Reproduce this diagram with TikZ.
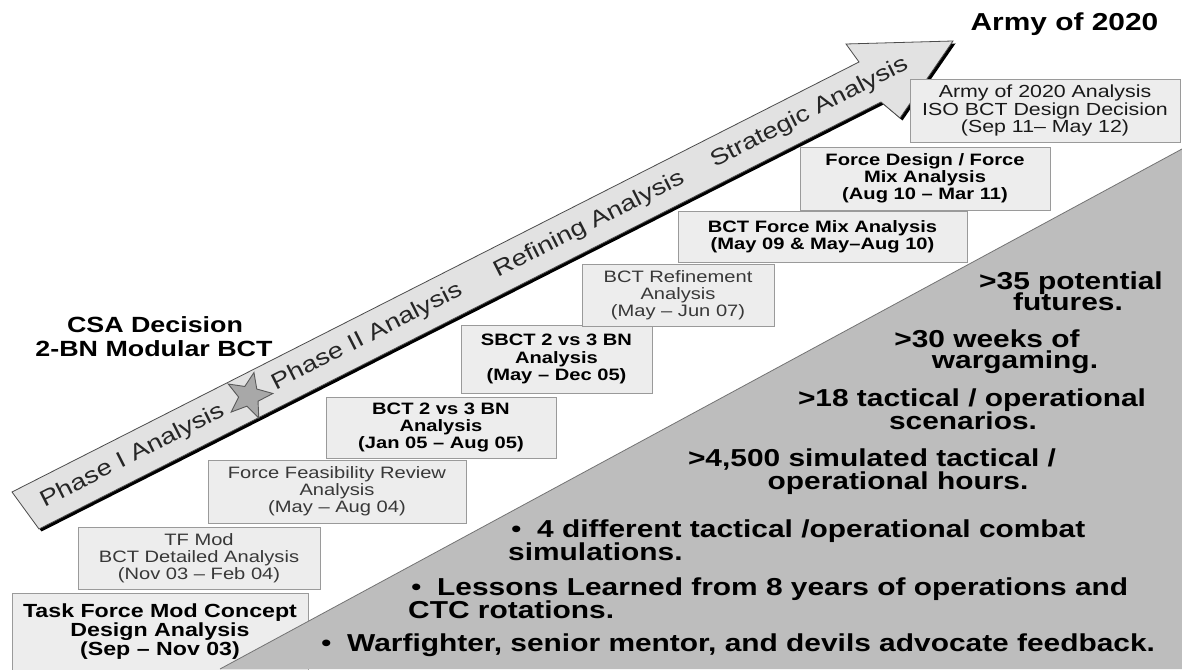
\documentclass[tikz,border=0pt]{standalone}
\usepackage{fontspec}
\setmainfont{Liberation Sans}[FakeStretch=1.22]
\usetikzlibrary{shapes.geometric}
\definecolor{boxfill}{HTML}{EDEDED}
\definecolor{boxline}{HTML}{9A9A9A}
\definecolor{bandfill}{HTML}{E2E2E2}
\definecolor{trifill}{HTML}{BDBDBD}
\definecolor{starfill}{HTML}{A8A8A8}
\tikzset{
  bx/.style={draw=boxline, fill=boxfill, line width=0.9pt, inner sep=0pt},
  bt/.style={align=center, font=\bfseries\fontsize{16.5}{17.2}\selectfont, text=black},
  rt/.style={align=center, font=\fontsize{16.5}{17.2}\selectfont, text=black!78},
  tri/.style={font=\bfseries\fontsize{24.5}{23}\selectfont, text=black, inner sep=0pt},
  band/.style={font=\fontsize{22.5}{24}\selectfont, rotate=26.9, text=black!85, inner sep=0pt},
  head/.style={font=\bfseries\fontsize{22}{24}\selectfont, text=black, inner sep=0pt, anchor=base},
}
\newcommand{\bul}{\makebox[26pt][l]{\mdseries •}}
\begin{document}
\begin{tikzpicture}[x=1pt,y=1pt]
\useasboundingbox (0,0) rectangle (1182,669);
\fill[white] (0,0) rectangle (1182,669);

% big arrow with shadow
\fill[black] [shift={(2.5,-2.5)}] (39,140) -- (881,567) -- (900,551) -- (953,628) -- (846,625) -- (859,607) -- (12,177) -- cycle;
\filldraw[fill=bandfill, draw=black!70, line width=0.8pt] (39,140) -- (881,567) -- (900,551) -- (953,628) -- (846,625) -- (859,607) -- (12,177) -- cycle;

\node[band] (ph1) at (132.5,212.8) {Phase I Analysis};
\node[star, star points=5, star point ratio=2.3, minimum size=48pt, inner sep=0pt, fill=starfill, draw=black!65, line width=0.9pt, rotate=-12] (star) at (249,273) {};
\node[band] (ph2) at (367.1,331.8) {Phase II Analysis};
\node[band] (ref) at (589.1,444.4) {Refining Analysis};
\node[band] (str) at (809.4,556.2) {Strategic Analysis};

% headings
\node[font=\bfseries\fontsize{24.5}{26}\selectfont, inner sep=0pt, anchor=base] (army) at (1064.5,638) {Army of 2020};
\node[head] (csa1) at (155,336) {CSA Decision};
\node[head] (csa2) at (154,312) {2-BN Modular BCT};

% boxes
\node[bx, bt, font=\bfseries\fontsize{19}{19}\selectfont, minimum width=296pt, minimum height=77pt] (b1) at (160,37.5) {Task Force Mod Concept\\Design Analysis\\(Sep -- Nov 03)};
\node[bx, rt, minimum width=242pt, minimum height=62pt] (b2) at (199,111) {TF Mod\\BCT Detailed Analysis\\(Nov 03 -- Feb 04)};
\node[bx, rt, minimum width=258pt, minimum height=63pt] (b3) at (337,177.5) {Force Feasibility Review\\Analysis\\(May -- Aug 04)};
\node[bx, bt, minimum width=230pt, minimum height=61pt] (b4) at (441,241.5) {BCT 2 vs 3 BN\\Analysis\\(Jan 05 -- Aug 05)};
\node[bx, bt, minimum width=191pt, minimum height=68pt] (b5) at (556.5,310) {SBCT 2 vs 3 BN\\Analysis\\(May -- Dec 05)};
\node[bx, rt, minimum width=192pt, minimum height=62pt] (b6) at (678,374) {BCT Refinement\\Analysis\\(May -- Jun 07)};
\node[bx, bt, minimum width=289pt, minimum height=51pt] (b7) at (822.5,432.5) {BCT Force Mix Analysis\\(May 09 \& May--Aug 10)};
\node[bx, bt, minimum width=250pt, minimum height=63pt] (b8) at (925,490.5) {Force Design / Force\\Mix Analysis\\(Aug 10 -- Mar 11)};
\node[bx, rt, text=black!90, font=\fontsize{17.5}{17.5}\selectfont, minimum width=270pt, minimum height=63pt] (b9) at (1045,558.5) {Army of 2020 Analysis\\ISO BCT Design Decision\\(Sep 11-- May 12)};

% grey triangle
\fill[trifill] (220,0) -- (1182,520) -- (1182,0) -- cycle;
\draw[black!55, line width=0.8pt] (220,0) -- (1182,520);

% triangle texts
\node[tri, anchor=base] (f1) at (1071,379) {>35 potential};
\node[tri, anchor=base] (f2) at (1068,358) {futures.};
\node[tri, anchor=base] (w1) at (987,321) {>30 weeks of};
\node[tri, anchor=base] (w2) at (1015,300) {wargaming.};
\node[tri, anchor=base] (s1) at (972,262) {>18 tactical / operational};
\node[tri, anchor=base] (s2) at (963,239) {scenarios.};
\node[tri, anchor=base] (h1) at (872,202) {>4,500 simulated tactical /};
\node[tri, anchor=base] (h2) at (898,179) {operational hours.};

\node[tri, anchor=base west] (u1) at (511,131) {\bul 4 different tactical /operational combat};
\node[tri, anchor=base west] (u1b) at (508,109) {simulations.};
\node[tri, anchor=base west] (u2) at (411,74) {\bul Lessons Learned from 8 years of operations and};
\node[tri, anchor=base west] (u2b) at (408,51) {CTC rotations.};
\node[tri, anchor=base west] (u3) at (321,18) {\bul Warfighter, senior mentor, and devils advocate feedback.};
\end{tikzpicture}
\end{document}
